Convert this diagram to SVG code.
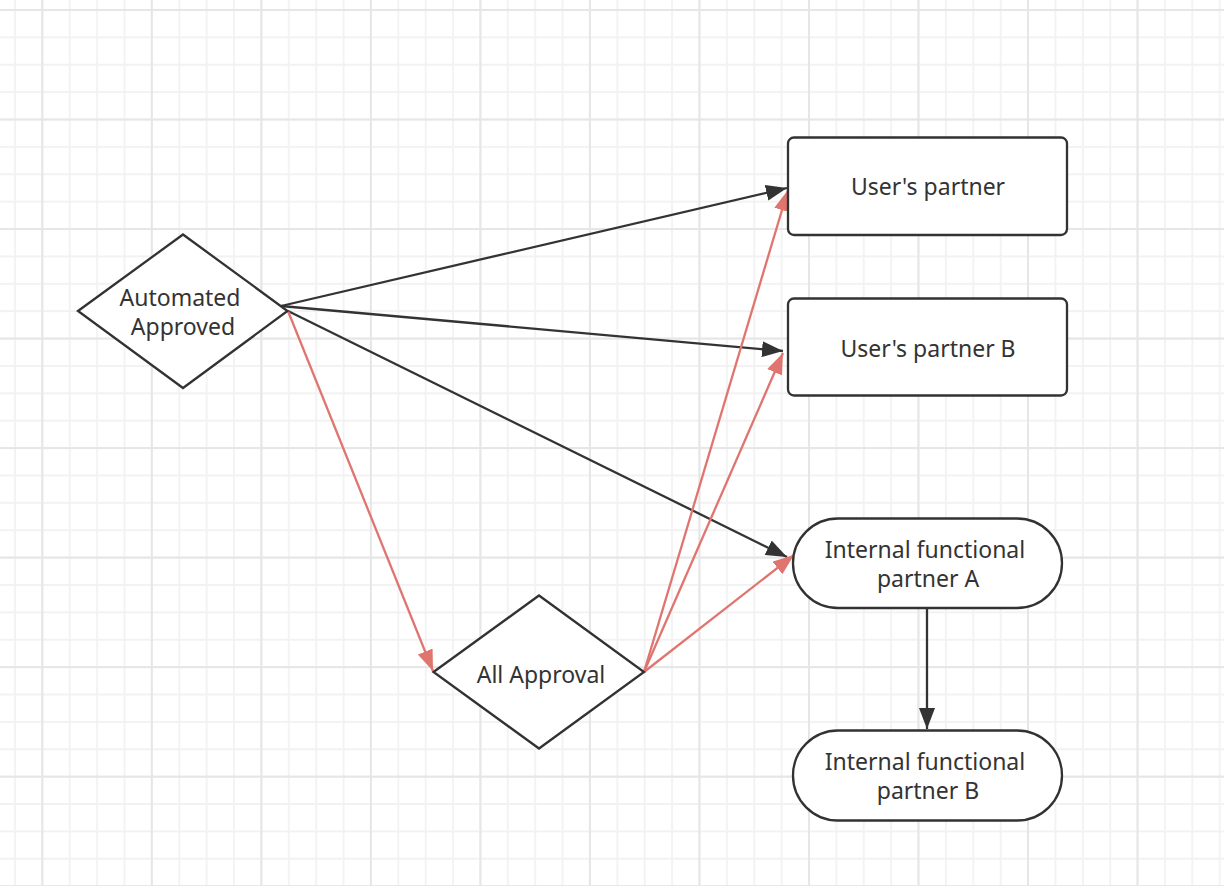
<svg xmlns="http://www.w3.org/2000/svg" width="1224" height="886" viewBox="0 0 1224 886">
  <style>
    .node { fill: #ffffff; stroke: #323232; stroke-width: 2.3; }
    .label { font-family: "Noto Sans", "Open Sans", "Liberation Sans", sans-serif; font-size: 23px; fill: #333333; text-anchor: middle; }
    .conn-dark { stroke: #333333; stroke-width: 2.3; fill: none; marker-end: url(#arrowDark); }
    .conn-red { stroke: #e0756f; stroke-width: 2.3; fill: none; marker-end: url(#arrowRed); }
  </style>
  <defs>
    <pattern id="minorGrid" patternUnits="userSpaceOnUse" x="1.3" y="-3.7" width="27.38" height="27.38">
      <path d="M13.69,0 V27.38 M0,13.69 H27.38" stroke="#f2f2f2" stroke-width="1.8" fill="none"/>
    </pattern>
    <pattern id="majorGrid" patternUnits="userSpaceOnUse" x="-12.46" y="-44.76" width="109.52" height="109.52">
      <path d="M54.76,0 V109.52 M0,54.76 H109.52" stroke="#e6e6e6" stroke-width="2" fill="none"/>
    </pattern>
    <marker id="arrowDark" markerUnits="userSpaceOnUse" markerWidth="22" markerHeight="16" refX="21" refY="8" orient="auto">
      <path d="M0,0 L21,8 L0,16 Z" fill="#333333"/>
    </marker>
    <marker id="arrowRed" markerUnits="userSpaceOnUse" markerWidth="22" markerHeight="16" refX="21" refY="8" orient="auto">
      <path d="M0,0 L21,8 L0,16 Z" fill="#e0756f"/>
    </marker>
  </defs>

  <rect x="0" y="0" width="1224" height="886" fill="#ffffff"/>
  <rect x="0" y="0" width="1224" height="886" fill="url(#minorGrid)"/>
  <rect x="0" y="0" width="1224" height="886" fill="url(#majorGrid)"/>

  <g id="connectors">
    <path class="conn-dark" d="M281,306 L787,188"/>
    <path class="conn-dark" d="M281,306 L783,351"/>
    <path class="conn-dark" d="M288,311 L787,557"/>
    <path class="conn-dark" d="M927,608 L927,729"/>
    <path class="conn-red" d="M288,311 L433,671"/>
    <path class="conn-red" d="M644,672 L788,190"/>
    <path class="conn-red" d="M644,672 L783,353"/>
    <path class="conn-red" d="M644,672 L794,555"/>
  </g>

  <g id="automated-approved">
    <polygon class="node" points="78,311 183,234.5 287.5,311 183,388"/>
    <text class="label" x="180" y="306">Automated</text>
    <text class="label" x="183" y="335">Approved</text>
  </g>

  <g id="all-approval">
    <polygon class="node" points="433.5,672 539,595.5 644,672 539,748.5"/>
    <text class="label" x="541" y="683">All Approval</text>
  </g>

  <g id="users-partner">
    <rect class="node" x="788" y="137.5" width="279" height="97.5" rx="6" ry="6"/>
    <text class="label" x="928" y="195">User's partner</text>
  </g>

  <g id="users-partner-b">
    <rect class="node" x="788" y="298.5" width="279" height="97" rx="6" ry="6"/>
    <text class="label" x="928" y="357">User's partner B</text>
  </g>

  <g id="internal-partner-a">
    <rect class="node" x="793" y="518.5" width="269" height="89.5" rx="45" ry="45"/>
    <text class="label" x="925" y="558">Internal functional</text>
    <text class="label" x="928" y="587">partner A</text>
  </g>

  <g id="internal-partner-b">
    <rect class="node" x="793" y="730.5" width="269" height="90" rx="45" ry="45"/>
    <text class="label" x="925" y="770">Internal functional</text>
    <text class="label" x="928" y="799">partner B</text>
  </g>
</svg>
